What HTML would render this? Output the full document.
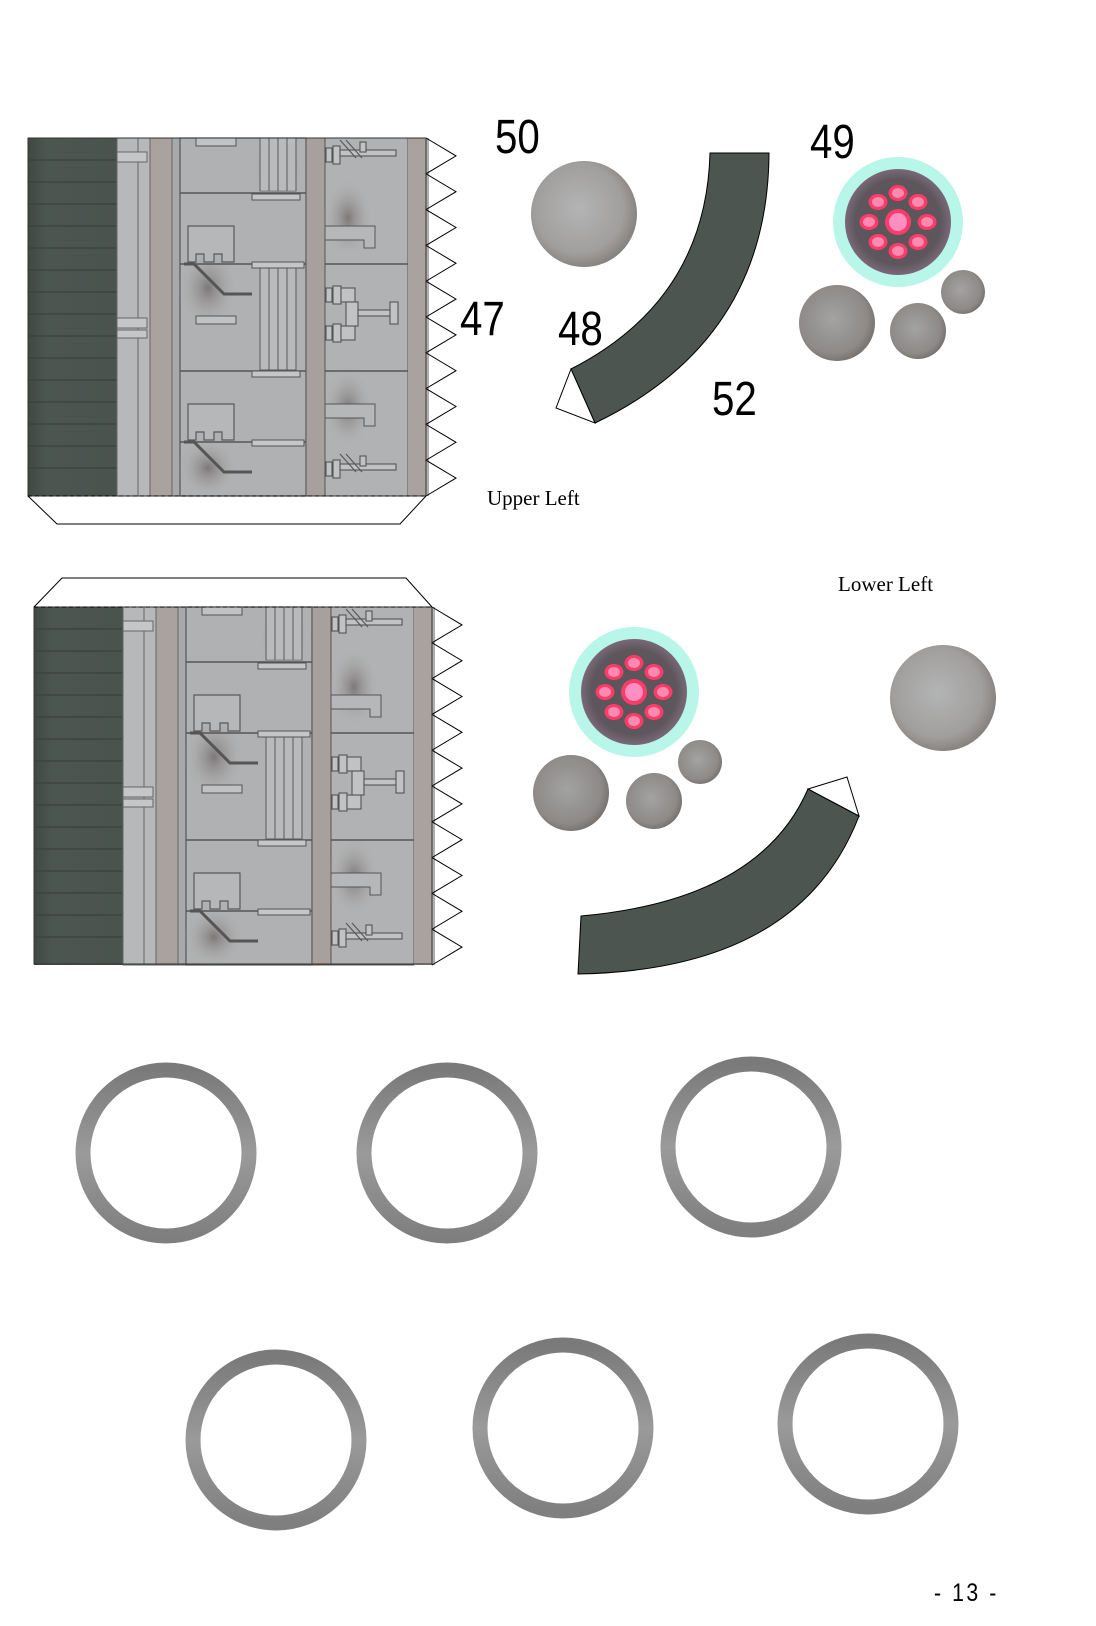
<!DOCTYPE html>
<html><head><meta charset="utf-8"><style>
html,body{margin:0;padding:0;background:#fff;}
svg{display:block;}
.n{font-family:"Liberation Sans",sans-serif;font-size:48px;fill:#000;}
.t{font-family:"Liberation Serif",serif;font-size:21px;fill:#000;}
</style></head><body>
<svg width="1096" height="1626" viewBox="0 0 1096 1626" xmlns="http://www.w3.org/2000/svg">
<defs>
<radialGradient id="ball" cx="0.45" cy="0.45" r="0.6">
<stop offset="0" stop-color="#b3b4b5"/><stop offset="0.7" stop-color="#a19f9d"/><stop offset="1" stop-color="#7f7a76"/></radialGradient>
<radialGradient id="ball2" cx="0.45" cy="0.45" r="0.6">
<stop offset="0" stop-color="#a3a3a3"/><stop offset="0.75" stop-color="#8d8a87"/><stop offset="1" stop-color="#6f6b68"/></radialGradient>
<radialGradient id="core" cx="0.5" cy="0.5" r="0.5">
<stop offset="0" stop-color="#5a5659"/><stop offset="0.8" stop-color="#5d565c"/><stop offset="1" stop-color="#7a6878"/></radialGradient>
<radialGradient id="spot" cx="0.5" cy="0.5" r="0.5">
<stop offset="0" stop-color="#7d7878"/><stop offset="1" stop-color="#b2b3b4" stop-opacity="0"/></radialGradient>
<linearGradient id="dk" x1="0" x2="1"><stop offset="0" stop-color="#3f4843"/><stop offset="0.2" stop-color="#4c5651"/><stop offset="1" stop-color="#4a534e"/></linearGradient>
<linearGradient id="ring" x1="0" y1="0" x2="0" y2="1"><stop offset="0" stop-color="#7a7a7a"/><stop offset="0.5" stop-color="#9a9a9a"/><stop offset="1" stop-color="#7f7f7f"/></linearGradient>
<g id="blob">
<ellipse cx="0" cy="0" rx="9.5" ry="8" fill="#ff3b6a"/><ellipse cx="0" cy="0" rx="6" ry="5" fill="#ff8ab0"/>
</g>
<g id="eye">
<circle r="65" fill="#b8f6ea"/>
<circle r="53" fill="url(#core)"/>
<circle r="13" fill="#ff3b6a"/><circle r="9" fill="#ff8fc0"/>
<use href="#blob" x="0" y="-29"/><use href="#blob" x="20" y="-20"/><use href="#blob" x="29" y="0"/><use href="#blob" x="20" y="20"/>
<use href="#blob" x="0" y="29"/><use href="#blob" x="-20" y="20"/><use href="#blob" x="-29" y="0"/><use href="#blob" x="-20" y="-20"/>
</g>
<g id="brk" fill="#b5b7b9" stroke="#5a5a5a" stroke-width="1.2">
<path d="M0 0 H46 V36 H34 V28 H26 V36 H16 V28 H8 V36 H0 Z"/>
</g>
<g id="ladder" fill="#c2c4c6" stroke="#5a5a5a" stroke-width="1">
<rect x="0" y="0" width="36" height="106" fill="#b8babc"/>
<line x1="9" y1="0" x2="9" y2="106"/><line x1="18" y1="0" x2="18" y2="106"/><line x1="27" y1="0" x2="27" y2="106"/>
</g>
<g id="mech" fill="#c0c2c4" stroke="#555" stroke-width="1.1">
<rect x="0" y="8" width="6" height="14"/><rect x="7" y="6" width="7" height="18"/><rect x="14" y="10" width="56" height="6"/>
<path d="M14 0 L30 18" fill="none"/><path d="M20 0 L36 18" fill="none"/><rect x="34" y="2" width="6" height="10"/>
</g>
<g id="panel">
<rect x="0" y="0" width="401" height="358" fill="#aeafb0"/>
<rect x="0" y="0" width="89" height="358" fill="url(#dk)"/>
<g stroke="#3a423e" stroke-width="1.2">
<line x1="0" y1="22" x2="89" y2="22"/><line x1="0" y1="44" x2="89" y2="44"/><line x1="0" y1="66" x2="89" y2="66"/><line x1="0" y1="88" x2="89" y2="88"/><line x1="0" y1="110" x2="89" y2="110"/><line x1="0" y1="132" x2="89" y2="132"/><line x1="0" y1="154" x2="89" y2="154"/><line x1="0" y1="176" x2="89" y2="176"/><line x1="0" y1="198" x2="89" y2="198"/><line x1="0" y1="220" x2="89" y2="220"/><line x1="0" y1="242" x2="89" y2="242"/><line x1="0" y1="264" x2="89" y2="264"/><line x1="0" y1="286" x2="89" y2="286"/><line x1="0" y1="308" x2="89" y2="308"/><line x1="0" y1="330" x2="89" y2="330"/>
</g>
<rect x="89" y="0" width="33" height="358" fill="#b6b8ba" stroke="#666" stroke-width="1"/>
<line x1="110" y1="0" x2="110" y2="358" stroke="#666"/>
<rect x="89" y="14" width="30" height="10" fill="#c4c6c8" stroke="#666"/>
<rect x="89" y="180" width="30" height="10" fill="#c4c6c8" stroke="#666"/>
<rect x="89" y="192" width="30" height="8" fill="#c4c6c8" stroke="#666"/>
<rect x="122" y="0" width="22" height="358" fill="#aaa29e" stroke="#666" stroke-width="1"/>
<rect x="144" y="0" width="8" height="358" fill="#a7a9ab" stroke="#666" stroke-width="1"/>
<rect x="152" y="0" width="126" height="358" fill="#b0b1b2" stroke="#555" stroke-width="1.2"/>
<ellipse cx="180" cy="150" rx="30" ry="40" fill="url(#spot)"/>
<ellipse cx="250" cy="30" rx="25" ry="30" fill="url(#spot)"/>
<ellipse cx="180" cy="330" rx="30" ry="30" fill="url(#spot)"/>
<g stroke="#555" stroke-width="1.4"><line x1="152" y1="55" x2="278" y2="55"/><line x1="152" y1="126" x2="278" y2="126"/><line x1="152" y1="233" x2="278" y2="233"/><line x1="152" y1="304" x2="278" y2="304"/></g>
<use href="#ladder" x="232" y="0" transform="scale(1,0.5)"/>
<use href="#ladder" x="232" y="126"/>
<use href="#ladder" x="232" y="304" transform="translate(0,-152) scale(1,0.5)"/>
<rect x="224" y="56" width="48" height="6" fill="#c4c6c8" stroke="#555"/>
<rect x="224" y="124" width="52" height="6" fill="#c4c6c8" stroke="#555"/>
<rect x="224" y="233" width="48" height="6" fill="#c4c6c8" stroke="#555"/>
<rect x="224" y="302" width="52" height="6" fill="#c4c6c8" stroke="#555"/>
<use href="#brk" x="160" y="88"/><use href="#brk" x="160" y="266"/>
<path d="M156 126 h10 l30 30 h28" fill="none" stroke="#555" stroke-width="3"/>
<path d="M156 304 h10 l30 30 h28" fill="none" stroke="#555" stroke-width="3"/>
<rect x="168" y="0" width="40" height="8" fill="#c0c2c4" stroke="#555"/>
<rect x="168" y="178" width="40" height="8" fill="#c0c2c4" stroke="#555"/>
<rect x="278" y="0" width="19" height="358" fill="#a8a09c" stroke="#555" stroke-width="1"/>
<rect x="297" y="0" width="83" height="358" fill="#b1b2b3" stroke="#555" stroke-width="1"/>
<ellipse cx="320" cy="80" rx="25" ry="40" fill="url(#spot)"/>
<ellipse cx="320" cy="270" rx="25" ry="40" fill="url(#spot)"/>
<g stroke="#555" stroke-width="1.4"><line x1="297" y1="126" x2="380" y2="126"/><line x1="297" y1="233" x2="380" y2="233"/></g>
<path d="M297 88 H347 V110 H336 V102 H297 Z" fill="#b5b7b9" stroke="#555"/>
<path d="M297 266 H347 V288 H336 V280 H297 Z" fill="#b5b7b9" stroke="#555"/>
<use href="#mech" x="298" y="2"/><use href="#mech" x="298" y="316"/>
<g fill="#c0c2c4" stroke="#555" stroke-width="1.1">
<rect x="298" y="150" width="6" height="14"/><rect x="305" y="148" width="8" height="18"/><rect x="313" y="150" width="14" height="14"/>
<rect x="298" y="188" width="6" height="14"/><rect x="305" y="186" width="8" height="18"/><rect x="313" y="188" width="14" height="14"/>
<rect x="318" y="164" width="12" height="24"/><rect x="330" y="172" width="36" height="6"/><rect x="362" y="164" width="8" height="22"/>
</g>
<rect x="380" y="0" width="18" height="358" fill="#aaa29f"/>
<line x1="398" y1="0" x2="398" y2="358" stroke="#000" stroke-dasharray="4,3"/>
<polyline fill="none" stroke="#000" stroke-width="1" points="398,0 428,17.9 398,35.8 428,53.7 398,71.6 428,89.5 398,107.4 428,125.3 398,143.2 428,161.1 398,179 428,196.9 398,214.8 428,232.7 398,250.6 428,268.5 398,286.4 428,304.3 398,322.2 428,340.1 398,358"/>
</g>
</defs>

<g transform="translate(28,138)"><use href="#panel"/>
<rect x="0" y="0" width="398" height="358" fill="none" stroke="#333" stroke-width="1"/></g>
<line x1="28" y1="496" x2="426" y2="496" stroke="#000" stroke-dasharray="4,3"/>
<polyline points="28,496 57,524 400,524 426,496" fill="none" stroke="#000"/>

<g transform="translate(34,607)"><use href="#panel"/>
<rect x="0" y="0" width="398" height="357" fill="none" stroke="#333" stroke-width="1"/></g>
<line x1="34" y1="607" x2="432" y2="607" stroke="#000" stroke-dasharray="4,3"/>
<polyline points="34,607 62,578 406,578 432,607" fill="none" stroke="#000"/>

<text class="n" x="495" y="153" transform="translate(495,0) scale(0.84,1) translate(-495,0)">50</text>
<text class="n" x="810" y="158" transform="translate(810,0) scale(0.84,1) translate(-810,0)">49</text>
<text class="n" x="460" y="335" transform="translate(460,0) scale(0.84,1) translate(-460,0)">47</text>
<text class="n" x="558" y="345" transform="translate(558,0) scale(0.84,1) translate(-558,0)">48</text>
<text class="n" x="712" y="415" transform="translate(712,0) scale(0.84,1) translate(-712,0)">52</text>
<text class="t" x="487" y="505">Upper Left</text>
<text class="t" x="838" y="591">Lower Left</text>

<circle cx="584" cy="214" r="53" fill="url(#ball)"/>
<path d="M710 153 H769 Q768 340 595 423 L571 369 Q706 300 710 153 Z" fill="#4c5550" stroke="#000" stroke-width="1"/>
<polygon points="571,369 556,408 595,423" fill="#fff" stroke="#000" stroke-width="1"/>
<use href="#eye" x="898" y="222"/>
<circle cx="837" cy="323" r="38" fill="url(#ball2)"/>
<circle cx="918" cy="331" r="28" fill="url(#ball2)"/>
<circle cx="963" cy="292" r="22" fill="url(#ball2)"/>

<use href="#eye" x="634" y="692"/>
<circle cx="571" cy="793" r="38" fill="url(#ball2)"/>
<circle cx="654" cy="801" r="28" fill="url(#ball2)"/>
<circle cx="700" cy="762" r="22" fill="url(#ball2)"/>
<circle cx="943" cy="698" r="53" fill="url(#ball)"/>
<path d="M581 916 Q760 900 808 789 L859 816 Q800 970 578 974 Z" fill="#4c5550" stroke="#000" stroke-width="1"/>
<polygon points="808,789 847,777 859,816" fill="#fff" stroke="#000" stroke-width="1"/>

<g fill="none" stroke="url(#ring)" stroke-width="15">
<circle cx="166" cy="1153" r="83"/>
<circle cx="447" cy="1153" r="83"/>
<circle cx="751" cy="1147" r="83"/>
<circle cx="276" cy="1440" r="83"/>
<circle cx="563" cy="1428" r="83"/>
<circle cx="868" cy="1424" r="83"/>
</g>
<text x="934" y="1601" font-family="Liberation Sans,sans-serif" font-size="25" fill="#000" letter-spacing="3" transform="translate(934,0) scale(0.85,1) translate(-934,0)">-  13  -</text>
</svg>
</body></html>
